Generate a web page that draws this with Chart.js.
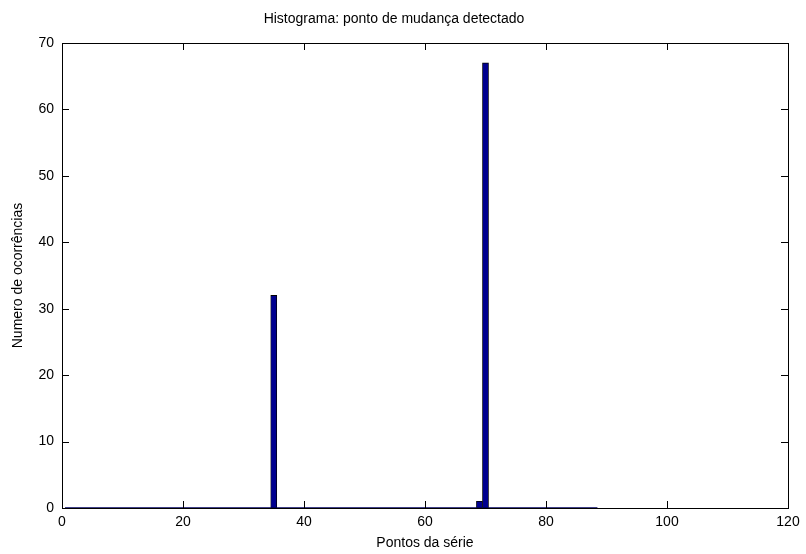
<!DOCTYPE html>
<html>
<head>
<meta charset="utf-8">
<script src="https://cdn.jsdelivr.net/npm/chart.js@4/dist/chart.umd.min.js"></script>
<style>
  html, body { margin: 0; padding: 0; background: #fff; }
  #wrap { width: 806px; height: 554px; }
</style>
</head>
<body>
<div id="wrap"><canvas id="histChart" width="806" height="554"></canvas></div>
<script>
// bin centres of the histogram (points of the series) and counts
const binCenters = [];
for (let i = 1; i <= 88; i++) binCenters.push(i);
const counts = binCenters.map(() => 0);
counts[binCenters.indexOf(35)] = 32;
counts[binCenters.indexOf(69)] = 1;
counts[binCenters.indexOf(70)] = 67;

const xTicks = [0, 20, 40, 60, 80, 100, 120];
const yTicks = [0, 10, 20, 30, 40, 50, 60, 70];

const barColor = '#00008f';
const font = 'Liberation Sans, Arial, sans-serif';

// matlab-ish box + inward ticks
const boxPlugin = {
    id: 'boxPlugin',
    afterDatasetsDraw: (chart) => {
        const { ctx, chartArea: a, scales } = chart;
        ctx.save();
        ctx.strokeStyle = '#000';
        ctx.lineWidth = 1;
        ctx.beginPath();
        xTicks.forEach((v) => {
            const px = Math.round(scales.x.getPixelForValue(v)) + 0.5;
            ctx.moveTo(px, a.bottom); ctx.lineTo(px, a.bottom - 7);
            ctx.moveTo(px, a.top); ctx.lineTo(px, a.top + 7);
        });
        yTicks.forEach((v) => {
            const py = Math.round(scales.y.getPixelForValue(v)) + 0.5;
            ctx.moveTo(a.left, py); ctx.lineTo(a.left + 7, py);
            ctx.moveTo(a.right, py); ctx.lineTo(a.right - 7, py);
        });
        ctx.stroke();
        ctx.strokeRect(Math.round(a.left) + 0.5, Math.round(a.top) + 0.5,
            Math.round(a.right - a.left), Math.round(a.bottom - a.top));
        ctx.restore();
    },
};

const ctx = document.getElementById('histChart').getContext('2d');
const histChart = new Chart(ctx, {
    type: 'bar',
    data: {
        datasets: [
            {
                label: 'ocorrencias',
                data: binCenters.map((x, i) => ({ x: x, y: counts[i] })),
                backgroundColor: barColor,
                borderColor: '#000',
                borderWidth: 0.8,
                borderSkipped: false,
                barPercentage: 1,
                categoryPercentage: 1,
                order: 1,
            },
            {
                // zero-height bins drawn as a baseline, like matlab
                type: 'line',
                label: 'base',
                data: [
                    { x: binCenters[0] - 0.5, y: 0 },
                    { x: binCenters[binCenters.length - 1] + 0.5, y: 0 },
                ],
                borderColor: '#000060',
                borderWidth: 1.5,
                pointRadius: 0,
                order: 0,
            },
        ],
    },
    options: {
        responsive: false,
        animation: false,
        layout: { padding: { left: 0, right: 18, top: 0, bottom: 0 } },
        plugins: {
            legend: { display: false },
            tooltip: { enabled: false },
            title: {
                display: true,
                text: 'Histograma: ponto de mudança detectado',
                color: '#000',
                font: { family: font, size: 14, weight: 'normal' },
                padding: { top: 11, bottom: 15.2 },
            },
        },
        scales: {
            x: {
                type: 'linear',
                offset: false,
                min: 0,
                max: 120,
                afterBuildTicks: (scale) => { scale.ticks = xTicks.map((v) => ({ value: v })); },
                afterFit: (scale) => { scale.height = 46; },
                grid: { display: false, drawTicks: false, offset: false },
                border: { display: false },
                ticks: { color: '#000', font: { family: font, size: 14 }, padding: 6, maxRotation: 0 },
                title: {
                    display: true,
                    text: 'Pontos da série',
                    color: '#000',
                    font: { family: font, size: 14 },
                    padding: { top: 0, bottom: 2 },
                },
            },
            y: {
                min: 0,
                max: 70,
                afterBuildTicks: (scale) => { scale.ticks = yTicks.map((v) => ({ value: v })); },
                afterFit: (scale) => { scale.width = 62; },
                grid: { display: false, drawTicks: false },
                border: { display: false },
                ticks: { color: '#000', font: { family: font, size: 14 }, padding: 8 },
                title: {
                    display: true,
                    text: 'Numero de ocorrências',
                    color: '#000',
                    font: { family: font, size: 14 },
                    padding: { top: 10, bottom: 0 },
                },
            },
        },
    },
    plugins: [boxPlugin],
});
</script>
</body>
</html>
